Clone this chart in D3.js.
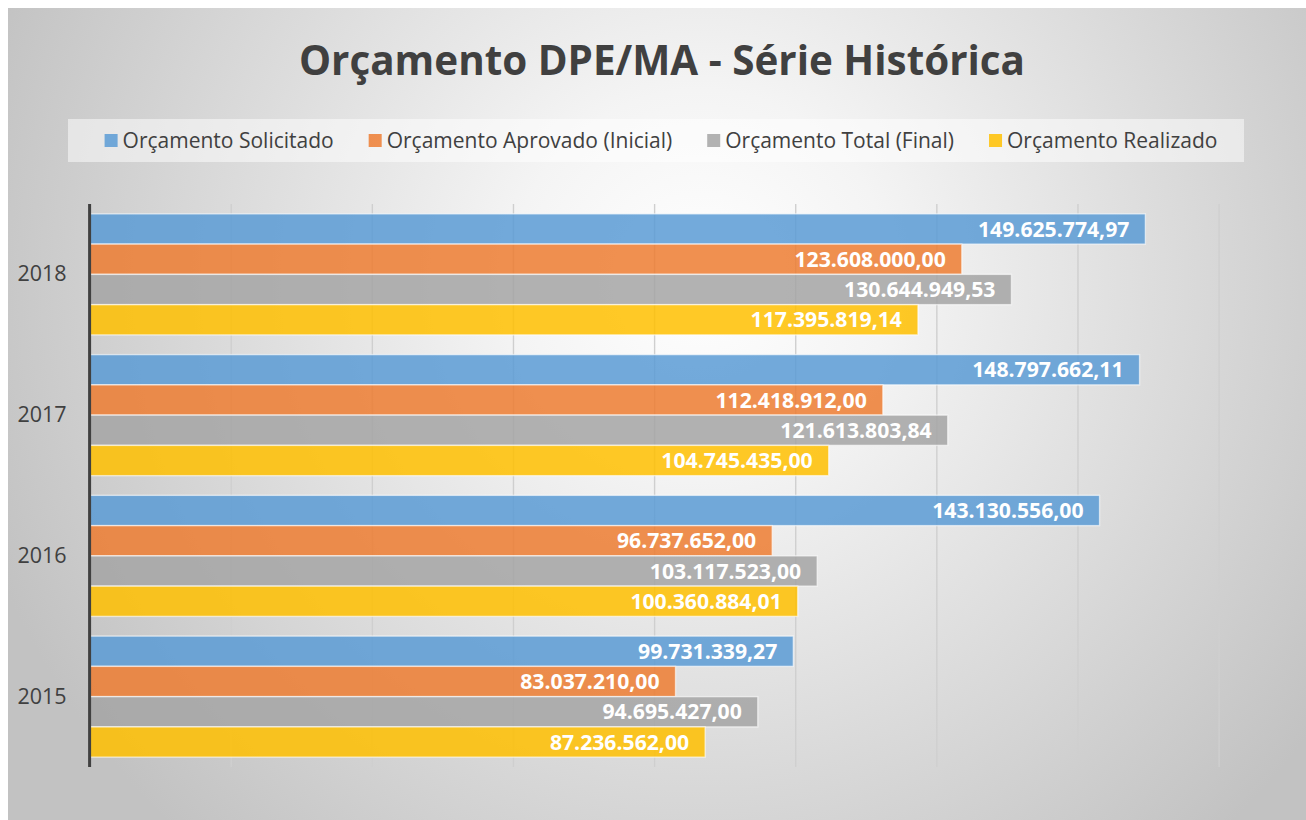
<!DOCTYPE html>
<html><head><meta charset="utf-8">
<script src="https://cdn.jsdelivr.net/npm/d3@7"></script>
<style>html,body{margin:0;padding:0;background:#fff;}svg{display:block;font-family:"Open Sans",sans-serif;}</style>
</head><body>
<svg id="chart" width="1306" height="820"></svg>
<script>
const years = ["2015","2016","2017","2018"];
const seriesNames = ["Orçamento Solicitado","Orçamento Aprovado (Inicial)","Orçamento Total (Final)","Orçamento Realizado"];
const solicitado = [99731339.27, 143130556.00, 148797662.11, 149625774.97];
const aprovado   = [83037210.00, 96737652.00, 112418912.00, 123608000.00];
const total      = [94695427.00, 103117523.00, 121613803.84, 130644949.53];
const realizado  = [87236562.00, 100360884.01, 104745435.00, 117395819.14];
const xTicks = [0,20e6,40e6,60e6,80e6,100e6,120e6,140e6,160e6];
const title = "Orçamento DPE/MA - Série Histórica";

const seriesValues = [solicitado, aprovado, total, realizado];
const colors = ["#5b9bd5","#ed7d31","#a5a5a5","#ffc000"];

const svg = d3.select("#chart");
const defs = svg.append("defs");
const rg = defs.append("radialGradient").attr("id","bg").attr("gradientUnits","userSpaceOnUse")
  .attr("cx",700).attr("cy",280).attr("r",760);
rg.append("stop").attr("offset","0").attr("stop-color","#ffffff");
rg.append("stop").attr("offset","0.25").attr("stop-color","#f4f4f4");
rg.append("stop").attr("offset","1").attr("stop-color","#c2c2c2");

svg.append("rect").attr("x",8).attr("y",8).attr("width",1298).attr("height",812).attr("fill","url(#bg)");

// title
svg.append("text").attr("x",662).attr("y",75).attr("text-anchor","middle")
  .attr("font-size",40.4).attr("font-weight",700).attr("fill","#404040").text(title);

// legend
svg.append("rect").attr("x",68).attr("y",119).attr("width",1176).attr("height",43)
  .attr("fill","#ffffff").attr("fill-opacity",0.5);
const lg = svg.append("g");
let lx = 0;
seriesNames.forEach((n,i)=>{
  const g = lg.append("g");
  g.append("rect").attr("x",0).attr("y",-7).attr("width",13).attr("height",13).attr("fill",colors[i]).attr("fill-opacity",0.85);
  const t = g.append("text").attr("x",18).attr("y",0).attr("dy","0.35em").attr("font-size",21).attr("fill","#404040").text(n);
  const w = 18 + t.node().getComputedTextLength();
  g.attr("transform",`translate(${lx},0)`);
  lx += w + 35;
});
const legW = lx - 35;
lg.attr("transform",`translate(${661 - legW/2},141)`);

// scales
const margin = {left:89.6, right:1218.6, top:204, bottom:767};
const x = d3.scaleLinear().domain([0,160e6]).range([margin.left, margin.right]);
const y = d3.scaleBand().domain(years.slice().reverse()).range([margin.top, margin.bottom]).paddingInner(0.14).paddingOuter(0.07);
const y1 = d3.scaleBand().domain(d3.range(4)).range([0, y.bandwidth()]);

// gridlines
const gg = defs.append("linearGradient").attr("id","grid").attr("gradientUnits","userSpaceOnUse")
  .attr("x1",0).attr("y1",margin.top).attr("x2",0).attr("y2",margin.bottom);
gg.append("stop").attr("offset","0").attr("stop-color","#cfcfcf");
gg.append("stop").attr("offset","1").attr("stop-color","#888888");
const xAxis = svg.append("g").attr("transform",`translate(0,${margin.bottom})`)
  .call(d3.axisBottom(x).tickValues(xTicks).tickSize(-(margin.bottom-margin.top)).tickFormat(""));
xAxis.select(".domain").remove();
xAxis.selectAll(".tick line").attr("stroke","url(#grid)").attr("stroke-width",1.4);

// bars
const fmt = d3.formatLocale({decimal:",", thousands:".", grouping:[3], currency:["R$ ",""]}).format(",.2f");
const groups = svg.append("g").selectAll("g").data(years).join("g")
  .attr("transform", d=>`translate(0,${y(d)})`);
seriesValues.forEach((vals,si)=>{
  groups.append("rect")
    .attr("x", x(0)).attr("y", y1(si))
    .attr("width", (d,i)=>x(vals[i]) - x(0))
    .attr("height", y1.bandwidth())
    .attr("fill", colors[si]).attr("fill-opacity",0.85)
    .attr("stroke","#ffffff").attr("stroke-opacity",0.6).attr("stroke-width",1.4);
  groups.append("text")
    .attr("x",(d,i)=>x(vals[i]) - 16).attr("y", y1(si) + y1.bandwidth()/2)
    .attr("dy","0.36em").attr("text-anchor","end")
    .attr("font-size",21.2).attr("font-weight",700).attr("fill","#ffffff")
    .text((d,i)=>fmt(vals[i]));
});

// left axis
const yAxis = svg.append("g").attr("transform",`translate(${margin.left},0)`)
  .call(d3.axisLeft(y).tickSize(0).tickPadding(23));
yAxis.select(".domain").remove();
yAxis.selectAll(".tick text").attr("font-size",21.5).attr("fill","#404040").attr("font-family","'Open Sans',sans-serif");
svg.append("line").attr("x1",margin.left).attr("x2",margin.left).attr("y1",margin.top).attr("y2",margin.bottom)
  .attr("stroke","#404040").attr("stroke-width",3);
</script>
</body></html>
